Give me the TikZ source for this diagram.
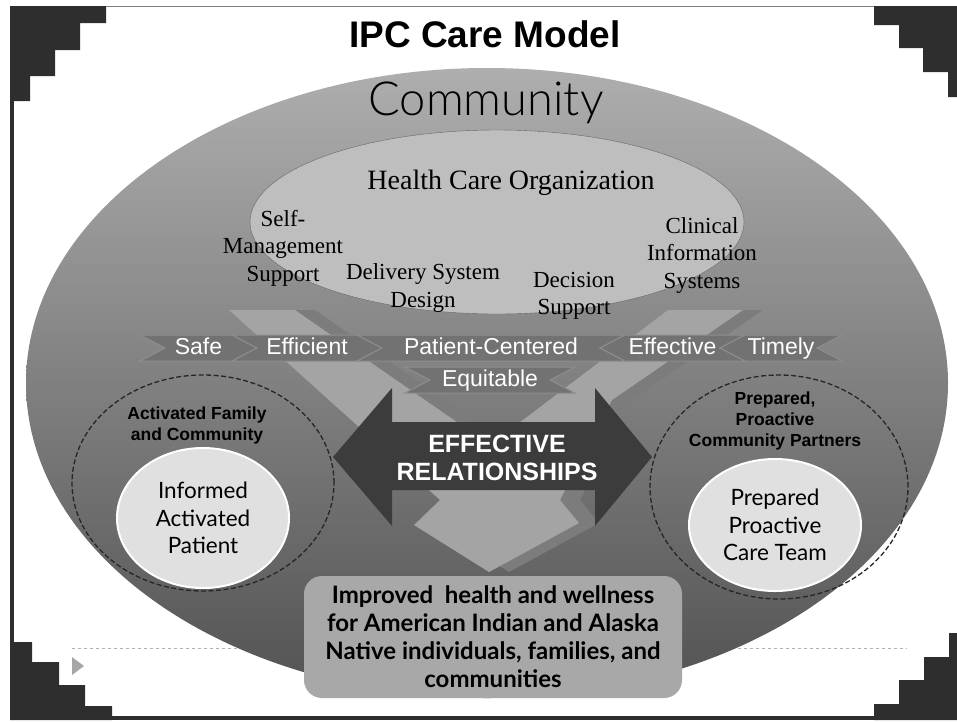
\documentclass[tikz,border=0pt]{standalone}
\usepackage{fontspec}
\setmainfont{Liberation Serif}
\newfontfamily\arialfont{Liberation Sans}
\newfontfamily\gillfont{Lato}
\newfontfamily\handfont{Lato Light}
\usepackage{tikz}
\usetikzlibrary{arrows,shapes,shapes.symbols,positioning}

\definecolor{stepgray}{HTML}{2E2E2E}
\definecolor{ringtop}{HTML}{AEAEAE}
\definecolor{ringbot}{HTML}{525252}
\definecolor{orgfill}{HTML}{BEBEBE}
\definecolor{vlight}{HTML}{A4A4A4}
\definecolor{vshade}{HTML}{7C7C7C}
\definecolor{bandfill}{HTML}{727272}
\definecolor{bandline}{HTML}{8E8E8E}
\definecolor{relfill}{HTML}{3C3C3C}
\definecolor{patfill}{HTML}{E0E0E0}
\definecolor{boxfill}{HTML}{A8A8A8}

\tikzstyle{ring} = [draw=black!85, dash pattern=on 5pt off 2.5pt, line width=1.3pt, ellipse, inner sep=0pt]
\tikzstyle{person} = [ellipse, fill=patfill, draw=white, line width=2pt, inner sep=0pt,
    align=center, font=\gillfont\fontsize{22.5}{27.5}\selectfont]
\tikzstyle{chev} = [signal, fill=bandfill, draw=bandline, line width=1pt, signal pointer angle=55,
    minimum height=26pt, inner sep=0pt, text height=16pt, text depth=4pt, text=white,
    font=\arialfont\fontsize{23}{26}\selectfont]
\tikzstyle{element} = [align=center, font=\fontsize{23}{27.5}\selectfont]
\tikzstyle{partner} = [align=center, inner sep=0pt, font=\arialfont\bfseries\fontsize{17.5}{21}\selectfont]

% outline of the V arrow behind the quality band
\newcommand{\vpath}{(229,310) -- (295,310) -- (490,445) -- (668,310) -- (743,310) -- (612,400)
    -- (560,500) -- (579,523) -- (489,572) -- (414,525) -- (440,500) -- cycle}

\begin{document}
\begin{tikzpicture}[x=1pt, y=-1pt, node distance=27.5pt, auto]
  \useasboundingbox (0,0) rectangle (957,721);

  % frame and stepped corners
  \fill[stepgray] (10,6) rectangle (14,720);
  \fill[stepgray] (10,716) rectangle (957,720);
  \draw[gray, line width=1pt] (10,6.5) -- (957,6.5);
  \fill[stepgray] (10,6) -- (106,6) -- (106,23) -- (80,23) -- (80,50) -- (55,50) -- (55,76)
    -- (30,76) -- (30,101) -- (10,101) -- cycle;
  \fill[stepgray] (874,6) -- (957,6) -- (957,97) -- (948,97) -- (948,72) -- (923,72) -- (923,48)
    -- (899,48) -- (899,25) -- (874,25) -- cycle;
  \fill[stepgray] (10,642) -- (32,642) -- (32,662) -- (59,662) -- (59,685) -- (85,685) -- (85,706)
    -- (112,706) -- (112,720) -- (10,720) -- cycle;
  \fill[stepgray] (874,720) -- (874,704) -- (899,704) -- (899,680) -- (924,680) -- (924,657)
    -- (949,657) -- (949,633) -- (957,633) -- (957,720) -- cycle;
  \draw[gray!60, dashed, line width=1pt] (72,648) -- (907,648);
  \fill[gray!70] (72,657) -- (84,666) -- (72,675) -- cycle;

  \node[font=\arialfont\bfseries\fontsize{37}{40}\selectfont] (title) at (485,34) {IPC Care Model};

  % Place nodes
  \node[ellipse, top color=ringtop, bottom color=ringbot, minimum width=922pt,
    minimum height=630pt] (community) at (487,383) {};
  \node[font=\handfont\fontsize{47}{50}\selectfont] (commlabel) at (486,103) {Community};
  \node[ellipse, fill=orgfill, draw=black!60, minimum width=494pt, minimum height=184pt]
    (org) at (497,222) {};
  \node[font=\fontsize{28}{30}\selectfont] (orgtitle) at (511,183) {Health Care Organization};
  \node[element] (selfmgmt) at (283,248) {Self-\\Management\\Support};
  \node[element] (delivery) at (423,288) {Delivery System\\Design};
  \node[element] (decision) at (574,296) {Decision\\Support};
  \node[element] (clinical) at (702,255) {Clinical\\Information\\Systems};

  \fill[vshade, xshift=20pt] \vpath;
  \fill[vlight] \vpath;

  \node[chev, signal from=west, minimum width=117pt] (safe) at (198.5,348) {Safe};
  \node[chev, signal from=west, minimum width=150pt] (efficient) at (307,348) {Efficient};
  \node[chev, signal from=west and east, signal to=nowhere, minimum width=268pt]
    (centered) at (491,348) {Patient-Centered};
  \node[chev, signal to=west, signal from=east, minimum width=145pt] (effective) at (672.5,348) {Effective};
  \node[chev, signal to=west, signal from=east, minimum width=122pt] (timely) at (781,348) {Timely};
  \node[chev, signal from=west and east, signal to=nowhere, minimum width=170pt]
    (equitable) at (490,380) {Equitable};

  \node[ring, minimum width=262pt, minimum height=216pt] (family) at (203,483) {};
  \node[partner] (familylabel) at (197,425) {Activated Family\\and Community};
  \node[person, minimum width=172pt, minimum height=140pt] (patient) at (203,518)
    {Informed\\Activated\\Patient};
  \node[ring, minimum width=258pt, minimum height=224pt] (partners) at (779,487) {};
  \node[partner] (partnerlabel) at (775,421) {Prepared,\\Proactive\\Community Partners};
  \node[person, minimum width=172pt, minimum height=132pt] (careteam) at (775,525)
    {Prepared\\Proactive\\Care Team};

  \fill[relfill] (333,457) -- (392,388) -- (392,422) -- (595,422) -- (595,388) -- (652,457)
    -- (595,526) -- (595,490) -- (392,490) -- (392,526) -- cycle;
  \node[align=center, text=white, font=\arialfont\bfseries\fontsize{25}{28}\selectfont]
    (relations) at (497,458) {EFFECTIVE\\RELATIONSHIPS};

  \node[rounded corners=18pt, fill=boxfill, minimum width=378pt, minimum height=122pt,
    align=center, font=\gillfont\bfseries\fontsize{24}{28}\selectfont] (outcome) at (493,637)
    {Improved\ \ health and wellness\\for American Indian and Alaska\\Native individuals, families, and\\communities};
\end{tikzpicture}
\end{document}
